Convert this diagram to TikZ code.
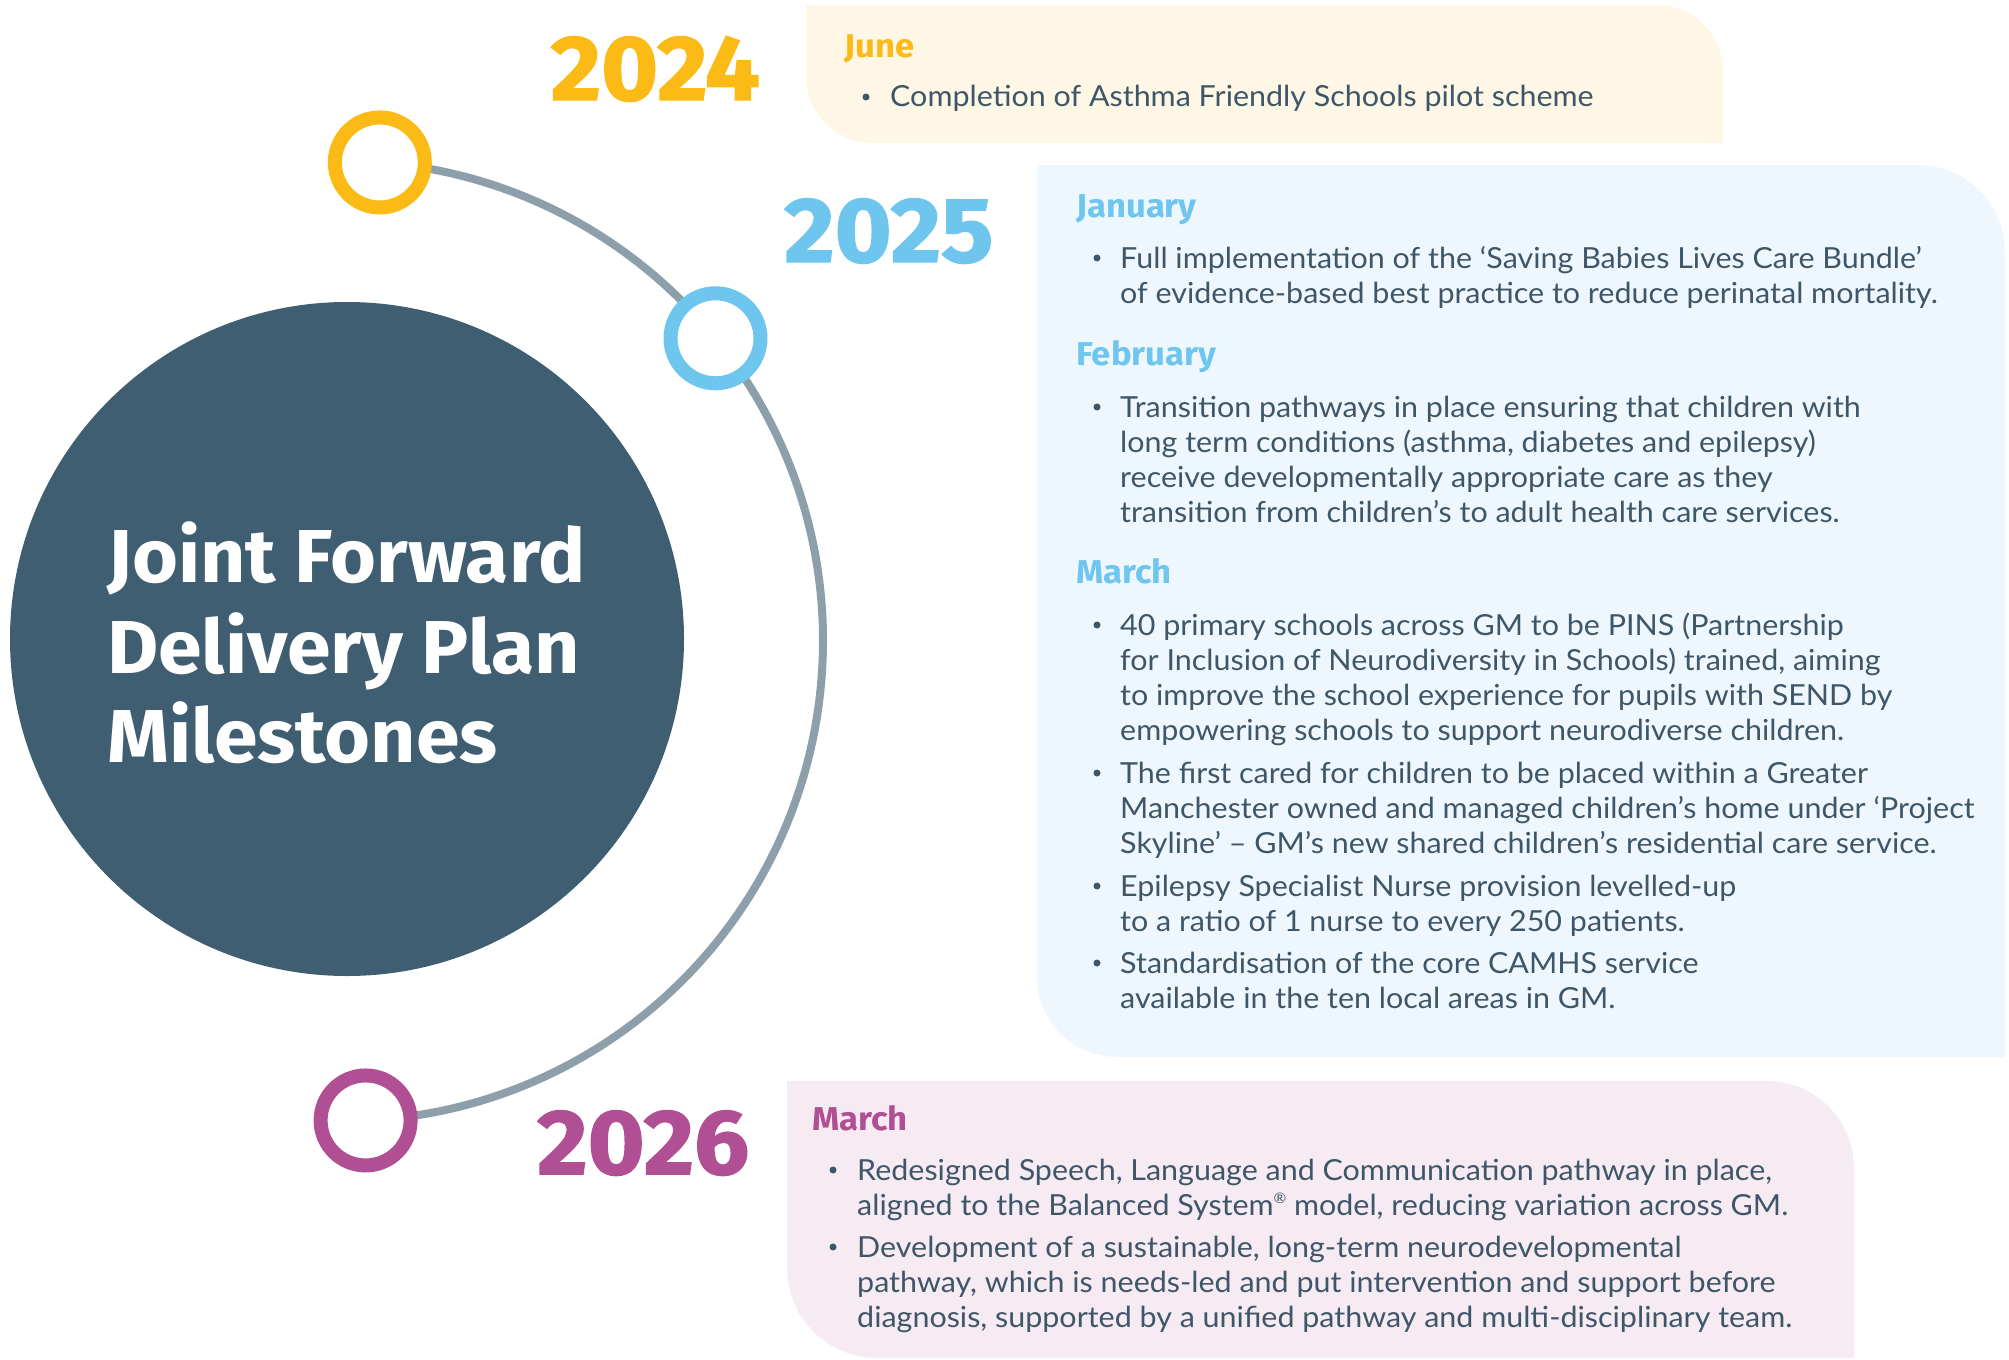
\documentclass[tikz,border=0pt]{standalone}
\usepackage{fontspec}
\setmainfont{Lato}[FakeStretch=1.05]
\newfontfamily\headfont{Fira Sans}[BoldFeatures={FakeStretch=1.05}]
\newfontfamily\yearfont{Fira Sans}[BoldFeatures={FakeBold=1.6,FakeStretch=1.06}]
\usetikzlibrary{calc}

\definecolor{yr24}{HTML}{FBBA16}
\definecolor{yr25}{HTML}{6EC6EF}
\definecolor{yr26}{HTML}{B04F94}
\definecolor{bg24}{HTML}{FEF7E6}
\definecolor{bg25}{HTML}{EEF7FD}
\definecolor{bg26}{HTML}{F6EBF3}
\definecolor{slate}{HTML}{3F5E72}
\definecolor{track}{HTML}{8C9FAA}
\definecolor{bodytext}{HTML}{3E5668}

\tikzset{
  yearlabel/.style={anchor=base west, inner sep=0pt, font=\yearfont\bfseries\fontsize{92}{92}\selectfont},
  monthlabel/.style={anchor=base west, inner sep=0pt, font=\headfont\bfseries\fontsize{33}{33}\selectfont},
  txtline/.style={anchor=base west, inner sep=0pt, text=bodytext, font=\fontsize{29}{35}\selectfont},
  bulletmark/.style={circle, fill=bodytext, inner sep=0pt, minimum size=7pt},
  titleline/.style={anchor=base west, inner sep=0pt, text=white, font=\headfont\bfseries\fontsize{75}{90}\selectfont},
  ring/.style={circle, minimum size=90pt, inner sep=0pt, line width=14pt, fill=white},
  trackline/.style={draw=track, line width=8pt},
}

% panel with rounded top-right and bottom-left corners
\newcommand\panel[7]{% left, top, right, bottom, top-right radius, bottom-left radius, colour
  \fill[#7] (#1,#2) -- (#3-#5,#2) arc[start angle=-90, end angle=0, radius=#5]
    -- (#3,#4) -- (#1+#6,#4) arc[start angle=90, end angle=180, radius=#6] -- cycle;
}

% one bullet point: name, bullet x, text x, first baseline, lines
\newcommand\milestone[5]{%
  \node[bulletmark] (#1-dot) at (#2,#4-10) {};
  \foreach \ln [count=\k from 0] in {#5}{
    \node[txtline] (#1-\k) at (#3,#4+35*\k) {\ln};
  }
}

\newcommand\regmark{\raisebox{0.75ex}{\scalebox{0.5}{®}}}

\begin{document}
\begin{tikzpicture}[x=1pt, y=-1pt]
\useasboundingbox (0,0) rectangle (2009,1359);

% panels
\panel{806}{5}{1723}{143}{66}{66}{bg24}
\panel{1037}{165}{2005}{1057}{87}{80}{bg25}
\panel{787}{1081}{1854}{1358}{87}{90}{bg26}

% central disc and title
\fill[slate] (347,639) circle[radius=337];
\node[titleline] (title1) at (107,582) {Joint Forward};
\node[titleline] (title2) at (107,673) {Delivery Plan};
\node[titleline] (title3) at (107,762) {Milestones};

% timeline track and milestone rings
\coordinate (hub) at (343,641);
\draw[trackline] (hub) ++(-85.6:480) arc[start angle=-85.6, end angle=87.3, radius=480];
\node[ring, draw=yr24] (ring24) at ($(hub)+(-85.6:480)$) {};
\node[ring, draw=yr25] (ring25) at ($(hub)+(-39.1:480)$) {};
\node[ring, draw=yr26] (ring26) at ($(hub)+(87.3:480)$) {};

% years
\node[yearlabel, anchor=base east, text=yr24] (y24) at (760,100) {2024};
\node[yearlabel, text=yr25] (y25) at (784,262) {2025};
\node[yearlabel, text=yr26] (y26) at (537,1174) {2026};

% 2024
\node[monthlabel, text=yr24] (jun24) at (844,58) {June};
\milestone{a1}{866}{890}{107}{{Completion of Asthma Friendly Schools pilot scheme}}

% 2025
\node[monthlabel, text=yr25] (jan25) at (1076,218) {January};
\milestone{b1}{1097}{1120}{268}{{Full implementation of the ‘Saving Babies Lives Care Bundle’},
  {of evidence-based best practice to reduce perinatal mortality.}}
\node[monthlabel, text=yr25] (feb25) at (1076,365) {February};
\milestone{b2}{1097}{1120}{417}{{Transition pathways in place ensuring that children with},
  {long term conditions (asthma, diabetes and epilepsy)},
  {receive developmentally appropriate care as they},
  {transition from children’s to adult health care services.}}
\node[monthlabel, text=yr25] (mar25) at (1076,583) {March};
\milestone{b3}{1097}{1120}{635}{{40 primary schools across GM to be PINS (Partnership},
  {for Inclusion of Neurodiversity in Schools) trained, aiming},
  {to improve the school experience for pupils with SEND by},
  {empowering schools to support neurodiverse children.}}
\milestone{b4}{1097}{1120}{783}{{The first cared for children to be placed within a Greater},
  {Manchester owned and managed children’s home under ‘Project},
  {Skyline’ – GM’s new shared children’s residential care service.}}
\milestone{b5}{1097}{1120}{896}{{Epilepsy Specialist Nurse provision levelled-up},
  {to a ratio of 1 nurse to every 250 patients.}}
\milestone{b6}{1097}{1120}{973}{{Standardisation of the core CAMHS service},
  {available in the ten local areas in GM.}}

% 2026
\node[monthlabel, text=yr26] (mar26) at (812,1130) {March};
\milestone{c1}{833}{857}{1180}{{Redesigned Speech, Language and Communication pathway in place,},
  {aligned to the Balanced System\regmark{} model, reducing variation across GM.}}
\milestone{c2}{833}{857}{1257}{{Development of a sustainable, long-term neurodevelopmental},
  {pathway, which is needs-led and put intervention and support before},
  {diagnosis, supported by a unified pathway and multi-disciplinary team.}}
\end{tikzpicture}
\end{document}
